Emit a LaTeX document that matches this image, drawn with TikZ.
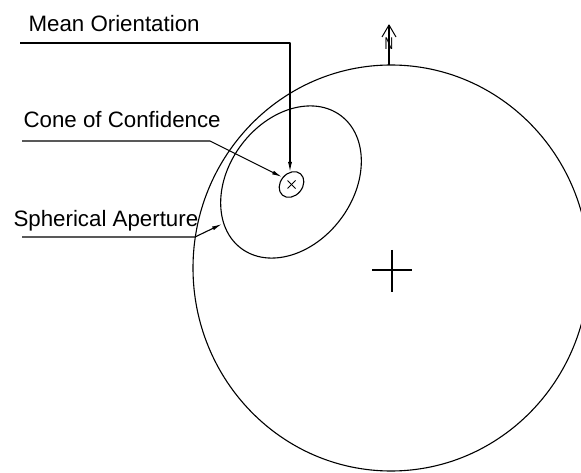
\documentclass[tikz,border=0pt]{standalone}
\usepackage{fontspec}
\setmainfont{Liberation Sans}
\usetikzlibrary{arrows.meta}
\begin{document}
\begin{tikzpicture}[x=1pt,y=-1pt,
  line width=1.1pt, line join=round,
  lbl/.style={anchor=base west, inner sep=0pt, font=\fontsize{22.3}{26}\selectfont},
  conn/.style={-{Latex[length=10pt,width=4pt]}},
  ]
\useasboundingbox (0,0) rectangle (581,473);
% big sphere
\draw (391,268) ellipse (198 and 203);
\node[inner sep=0pt] (centre) at (392,270) {};
\draw (centre.center) ++(-20,0) -- ++(40,0);
\draw (centre.center) ++(0,-20) -- ++(0,42);
% north arrow
\coordinate (ntop) at (389,65);
\coordinate (ntip) at (389,25);
\draw (ntop) -- (ntip);
\draw[line width=1pt] (382,37) -- (ntip) -- (396,37);
\node[inner sep=0pt, xscale=0.7, font=\fontsize{17}{17}\selectfont] (N) at (389,43.5) {N};
% spherical aperture ellipse
\draw[rotate around={53:(291,182)}] (291,182) ellipse (83 and 62);
% cone of confidence ellipse
\draw[rotate around={50:(291.5,184.5)}] (291.5,184.5) ellipse (14 and 11);
% mean orientation mark
\node[inner sep=0pt] (mean) at (291.5,184.5) {};
\draw[line width=1pt] (mean.center) ++(-4,-4) -- ++(8,8);
\draw[line width=1pt] (mean.center) ++(-4,4) -- ++(8,-8);
% labels
\node[lbl] (lmean) at (28,32) {Mean Orientation};
\node[lbl] (lcone) at (23,128) {Cone of Confidence};
\node[lbl] (lsph) at (13,227) {Spherical Aperture};
% connectors
\coordinate (m0) at (20,43);
\coordinate (m1) at (290,43);
\coordinate (m2) at (290,172);
\draw[conn] (m0) -- (m1) -- (m2);
\coordinate (c0) at (22,141);
\coordinate (c1) at (210,141);
\coordinate (c2) at (282,177);
\draw[conn] (c0) -- (c1) -- (c2);
\coordinate (s0) at (22,237);
\coordinate (s1) at (195,237);
\coordinate (s2) at (222,224);
\draw[conn] (s0) -- (s1) -- (s2);
\end{tikzpicture}
\end{document}
